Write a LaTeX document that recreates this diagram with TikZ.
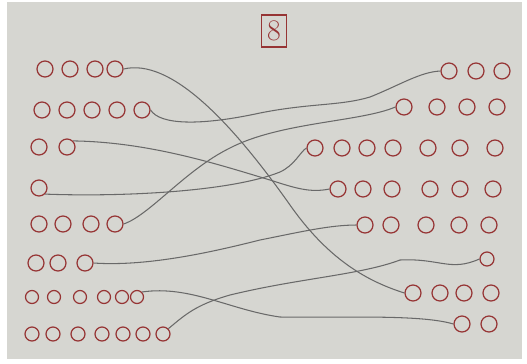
\documentclass[tikz,border=0pt]{standalone}
\usepackage{tikz}
\usetikzlibrary{arrows.meta}

\definecolor{paper}{RGB}{214,214,209}
\definecolor{inkred}{RGB}{150,52,52}
\definecolor{pencil}{RGB}{105,105,105}

\tikzset{
  ring/.style={circle,draw=inkred,line width=0.7pt,inner sep=0pt,minimum size=0.32cm},
  smallring/.style={ring,minimum size=0.26cm},
  wire/.style={draw=pencil,line width=0.6pt}
}

\begin{document}
\begin{tikzpicture}[x=0.02cm,y=-0.02cm]
            \useasboundingbox (0,0) rectangle (527,363);
            \fill[white] (0,0) rectangle (527,363);
            \fill[paper] (7,2) rectangle (522,359);
            \node[draw=inkred,line width=0.7pt,minimum width=0.5cm,minimum height=0.54cm,text=inkred,font=\fontsize{17}{17}\selectfont] (page) at (274,31) {8};
            % left rows
            \foreach \x [count=\i] in {45,70,95,115} \node[ring] (l1-\i) at (\x,69) {};
            \foreach \x [count=\i] in {42,67,92,117,142} \node[ring] (l2-\i) at (\x,110) {};
            \foreach \x [count=\i] in {39,67} \node[ring] (l3-\i) at (\x,147) {};
            \node[ring] (l4) at (39,188) {};
            \foreach \x [count=\i] in {39,63,91,115} \node[ring] (l5-\i) at (\x,224) {};
            \foreach \x [count=\i] in {36,58,85} \node[ring] (l6-\i) at (\x,263) {};
            \foreach \x [count=\i] in {32,54,80,104,122,137} \node[smallring] (l7-\i) at (\x,297) {};
            \foreach \x [count=\i] in {32,53,78,102,123,143,163} \node[smallring,minimum size=0.28cm] (l8-\i) at (\x,334) {};
            % right rows
            \foreach \x [count=\i] in {449,476,502} \node[ring] (r1-\i) at (\x,71) {};
            \foreach \x [count=\i] in {404,437,467,497} \node[ring] (r2-\i) at (\x,107) {};
            \foreach \x [count=\i] in {315,342,367,393,428,460,495} \node[ring] (r3-\i) at (\x,148) {};
            \foreach \x [count=\i] in {338,363,392,430,460,493} \node[ring] (r4-\i) at (\x,189) {};
            \foreach \x [count=\i] in {365,391,426,459,489} \node[ring] (r5-\i) at (\x,225) {};
            \node[ring,minimum size=0.28cm] (r6) at (487,259) {};
            \foreach \x [count=\i] in {413,440,464,491} \node[ring] (r7-\i) at (\x,293) {};
            \foreach \x [count=\i] in {462,489} \node[ring] (r8-\i) at (\x,324) {};
            % pencil lines
            \draw[wire] (l1-4.east) .. controls (170,58) and (230,120) .. (290,205) .. controls (330,262) and (370,282) .. (r7-1.west);
            \draw[wire] (l2-5.east) .. controls (160,125) and (200,126) .. (260,113) .. controls (310,103) and (340,106) .. (370,97) .. controls (400,85) and (420,72) .. (r1-1.west);
            \draw[wire] (l3-2.north east) .. controls (150,142) and (220,165) .. (270,180) .. controls (295,188) and (310,193) .. (r4-1.west);
            \draw[wire] (l4.south east) .. controls (120,197) and (230,192) .. (280,172) .. controls (295,165) and (300,152) .. (r3-1.west);
            \draw[wire] (l5-4.east) .. controls (150,215) and (185,170) .. (230,148) .. controls (280,122) and (360,122) .. (r2-1.west);
            \draw[wire] (l6-3.east) .. controls (150,267) and (220,250) .. (260,240) .. controls (300,232) and (330,225) .. (r5-1.west);
            \draw[wire] (l7-6.north east) .. controls (190,285) and (230,310) .. (280,317) .. controls (340,318) and (420,314) .. (r8-1.west);
            \draw[wire] (l8-7.north east) .. controls (185,315) and (195,305) .. (230,295) .. controls (300,278) and (360,275) .. (400,260) .. controls (440,258) and (450,272) .. (r6.west);
        \end{tikzpicture}
\end{document}
